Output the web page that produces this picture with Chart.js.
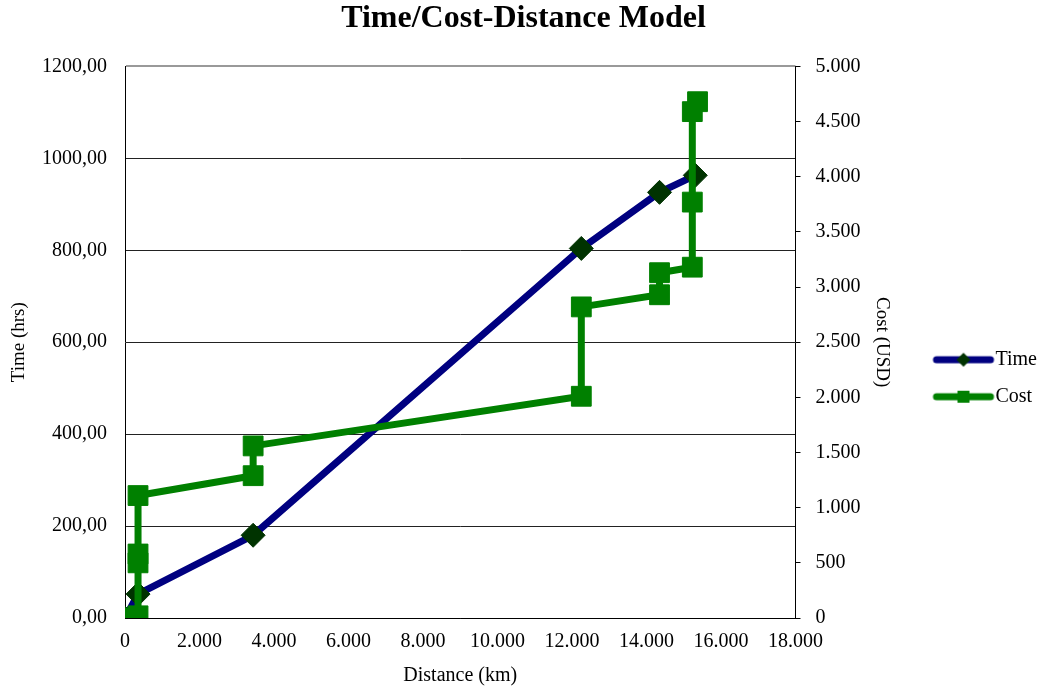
<!DOCTYPE html>
<html>
<head>
<meta charset="utf-8">
<script src="https://cdn.jsdelivr.net/npm/chart.js@4"></script>
<style>
  html, body { margin: 0; padding: 0; background: #fff; }
  #wrap { width: 1051px; height: 693px; }
</style>
</head>
<body>
<div id="wrap"><canvas id="modelChart"></canvas></div>
<script>
// distance (km) vs time (hrs) and cost (USD)
const timeDistance = [0, 350, 3440, 12250, 14350, 15310];
const timeHours = [0, 52, 180, 804, 926, 963];

const costDistance = [0, 350, 350, 350, 350, 3440, 3440, 12250, 12250, 14350, 14350, 15230, 15230, 15230, 15370];
const costUsd = [0, 20, 500, 580, 1110, 1290, 1560, 2010, 2820, 2930, 3130, 3180, 3770, 4590, 4680];

const distanceTicks = [0, 2000, 4000, 6000, 8000, 10000, 12000, 14000, 16000, 18000];

const serif = 'Liberation Serif';

function dotted(n) {
  return String(n).replace(/\B(?=(\d{3})+(?!\d))/g, '.');
}

// legend swatch: thick line with the marker, a bit wider than the box so it reaches the text
const boxW = 71;
function legendIcon(lineColor, markColor, square) {
  const c = document.createElement('canvas');
  c.width = boxW + 24; c.height = 18;
  const g = c.getContext('2d');
  const mid = c.width / 2;
  const x0 = mid + boxW / 2 - 52, x1 = mid + boxW / 2 + 8;
  g.strokeStyle = lineColor;
  g.lineWidth = 7;
  g.lineCap = 'round';
  g.beginPath(); g.moveTo(x0 + 3, 9); g.lineTo(x1 - 3, 9); g.stroke();
  const cx = (x0 + x1) / 2;
  g.fillStyle = markColor;
  if (square) {
    g.fillRect(cx - 6, 3, 12, 12);
  } else {
    g.beginPath(); g.moveTo(cx, 2); g.lineTo(cx + 7, 9); g.lineTo(cx, 16); g.lineTo(cx - 7, 9); g.closePath(); g.fill();
  }
  return c;
}
const icons = [legendIcon('#000080', '#003300', false), legendIcon('#008000', '#008000', true)];

new Chart(document.getElementById('modelChart').getContext('2d'), {
  type: 'scatter',
  data: {
    datasets: [{
      label: 'Time',
      data: timeDistance.map((d, i) => ({ x: d, y: timeHours[i] })),
      yAxisID: 'y',
      showLine: true,
      borderColor: '#000080',
      borderWidth: 7,
      pointStyle: 'rectRot',
      pointRadius: 12,
      pointBackgroundColor: '#003300',
      pointBorderColor: '#003300',
      pointBorderWidth: 1,
      order: 2
    }, {
      label: 'Cost',
      data: costDistance.map((d, i) => ({ x: d, y: costUsd[i] })),
      yAxisID: 'y1',
      showLine: true,
      borderColor: '#008000',
      borderWidth: 7,
      pointStyle: 'rect',
      pointRadius: 14,
      pointBackgroundColor: '#008000',
      pointBorderColor: '#008000',
      pointBorderWidth: 1,
      order: 1
    }]
  },
  options: {
    responsive: true,
    maintainAspectRatio: false,
    animation: false,
    layout: { padding: { left: 0, right: 4, top: 0, bottom: 4 } },
    plugins: {
      title: {
        display: true,
        text: 'Time/Cost-Distance Model',
        color: '#000',
        font: { family: serif, size: 32, weight: 'bold' },
        padding: { top: 0, bottom: 28 }
      },
      legend: {
        position: 'right',
        fullSize: false,
        title: { display: true, text: ' ', font: { size: 10 }, padding: { top: 0, bottom: 60 } },
        labels: {
          usePointStyle: true,
          pointStyleWidth: boxW,
          boxHeight: 16,
          color: '#000',
          font: { family: serif, size: 20 },
          padding: 17,
          sort: (a, b) => a.datasetIndex - b.datasetIndex,
          generateLabels(chart) {
            const items = Chart.defaults.plugins.legend.labels.generateLabels(chart);
            items.forEach(it => { it.pointStyle = icons[it.datasetIndex]; });
            return items;
          }
        }
      },
      tooltip: { enabled: false }
    },
    scales: {
      x: {
        type: 'linear',
        min: 0,
        max: 18000,
        afterBuildTicks(scale) { scale.ticks = distanceTicks.map(v => ({ value: v })); },
        ticks: { color: '#000', font: { family: serif, size: 20 }, callback: v => dotted(v), maxRotation: 0, padding: 12 },
        grid: { drawOnChartArea: false, drawTicks: false },
        border: { color: '#000', width: 1 },
        title: { display: true, text: 'Distance (km)', color: '#000', font: { family: serif, size: 20 }, padding: { top: 4, bottom: 1 } },
        afterFit(scale) { scale.height = 71; }
      },
      y: {
        position: 'left',
        min: 0,
        max: 1200,
        ticks: { stepSize: 200, color: '#000', font: { family: serif, size: 20 }, padding: 18, callback: v => v.toFixed(2).replace('.', ',') },
        grid: {
          color: ctx => ctx.tick && ctx.tick.value === 1200 ? '#999' : '#222',
          lineWidth: ctx => ctx.tick && ctx.tick.value === 1200 ? 2 : 1,
          drawTicks: false
        },
        border: { color: '#000', width: 1 },
        title: { display: true, text: 'Time (hrs)', color: '#000', font: { family: serif, size: 19 }, padding: { top: 8, bottom: 4 } },
        afterFit(scale) { scale.width = 125; }
      },
      y1: {
        position: 'right',
        min: 0,
        max: 5000,
        ticks: { stepSize: 500, color: '#000', font: { family: serif, size: 20 }, padding: 15, callback: v => dotted(v) },
        grid: { drawOnChartArea: false, tickLength: 5, color: '#000' },
        border: { color: '#000', width: 1 },
        title: { display: true, text: 'Cost (USD)', color: '#000', font: { family: serif, size: 19 } },
        afterFit(scale) { scale.width = 102; }
      }
    }
  }
});
</script>
</body>
</html>
